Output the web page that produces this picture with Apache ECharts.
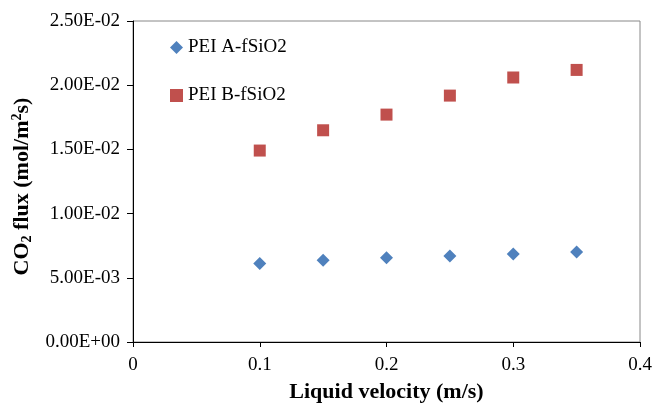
<!DOCTYPE html>
<html>
<head>
<meta charset="utf-8">
<script src="https://cdn.jsdelivr.net/npm/echarts@6/dist/echarts.min.js"></script>
<style>
html,body{margin:0;padding:0;background:#fff;}
#chart{width:654px;height:404px;}
</style>
</head>
<body>
<div id="chart"></div>
<script>
// Data
const velocity = [0.1, 0.15, 0.2, 0.25, 0.3, 0.35];
const peiA = [0.00611, 0.00636, 0.00657, 0.00670, 0.00685, 0.00701];
const peiB = [0.01491, 0.01649, 0.01771, 0.01919, 0.02060, 0.02119];
const seriesNames = ['PEI A-fSiO2', 'PEI B-fSiO2'];
const yTickLabels = ['0.00E+00', '5.00E-03', '1.00E-02', '1.50E-02', '2.00E-02', '2.50E-02'];
const xTickLabels = ['0', '0.1', '0.2', '0.3', '0.4'];

const FONT = "'Liberation Serif', 'Times New Roman', serif";
const chart = echarts.init(document.getElementById('chart'));

const option = {
  backgroundColor: '#fff',
  animation: false,
  grid: {
    left: 133, right: 14, top: 21, bottom: 62,
    containLabel: false, outerBoundsMode: 'none',
    show: true, borderColor: '#888', borderWidth: 1, backgroundColor: 'transparent'
  },
  legend: [
    {
      data: [{name: seriesNames[0], icon: 'diamond', itemStyle: {opacity: 1}}],
      left: 170, top: 38, padding: 0, itemWidth: 13, itemHeight: 13,
      textStyle: {fontFamily: FONT, fontSize: 19, color: '#000'}
    },
    {
      data: [{name: seriesNames[1], icon: 'rect', itemStyle: {opacity: 1}}],
      left: 170, top: 86, padding: 0, itemWidth: 13, itemHeight: 13,
      textStyle: {fontFamily: FONT, fontSize: 19, color: '#000'}
    }
  ],
  xAxis: {
    type: 'value', min: 0, max: 0.4, interval: 0.1,
    name: 'Liquid velocity (m/s)', nameLocation: 'middle', nameGap: 39,
    nameTextStyle: {fontFamily: FONT, fontSize: 22, fontWeight: 'bold', color: '#000'},
    axisLine: {show: true, lineStyle: {color: '#000', width: 1}},
    axisTick: {show: true, length: 5, lineStyle: {color: '#000'}},
    splitLine: {show: false},
    axisLabel: {
      fontFamily: FONT, fontSize: 19, color: '#000', margin: 14,
      formatter: function (v) { return xTickLabels[Math.round(v / 0.1)]; }
    }
  },
  yAxis: {
    type: 'value', min: 0, max: 0.025, interval: 0.005,
    name: '{a|CO}{sub|2}{a| flux (mol/m}{sup|2}{a|s)}',
    nameLocation: 'middle', nameGap: 98, nameRotate: 90,
    nameTextStyle: {
      fontFamily: FONT, fontSize: 22, fontWeight: 'bold', color: '#000',
      padding: [0, 10, 0, 0],
      rich: {
        a: {fontFamily: FONT, fontSize: 22, fontWeight: 'bold', color: '#000', lineHeight: 24},
        sub: {fontFamily: FONT, fontSize: 14, fontWeight: 'bold', color: '#000', lineHeight: 14, verticalAlign: 'bottom', padding: [7, 0, 0, 0]},
        sup: {fontFamily: FONT, fontSize: 14, fontWeight: 'bold', color: '#000', lineHeight: 14, verticalAlign: 'top'}
      }
    },
    axisLine: {show: true, lineStyle: {color: '#000', width: 1}},
    axisTick: {show: true, length: 6, lineStyle: {color: '#000'}},
    splitLine: {show: false},
    axisLabel: {
      fontFamily: FONT, fontSize: 19, color: '#000', margin: 13,
      formatter: function (v) { return yTickLabels[Math.round(v / 0.005)]; }
    }
  },
  series: [
    {
      name: seriesNames[0], type: 'scatter', symbol: 'diamond', symbolSize: 13,
      itemStyle: {color: '#4F81BD', opacity: 1},
      data: velocity.map((x, i) => [x, peiA[i]])
    },
    {
      name: seriesNames[1], type: 'scatter', symbol: 'rect', symbolSize: 12,
      itemStyle: {color: '#C0504D', opacity: 1},
      data: velocity.map((x, i) => [x, peiB[i]])
    }
  ]
};
chart.setOption(option);
</script>
</body>
</html>
